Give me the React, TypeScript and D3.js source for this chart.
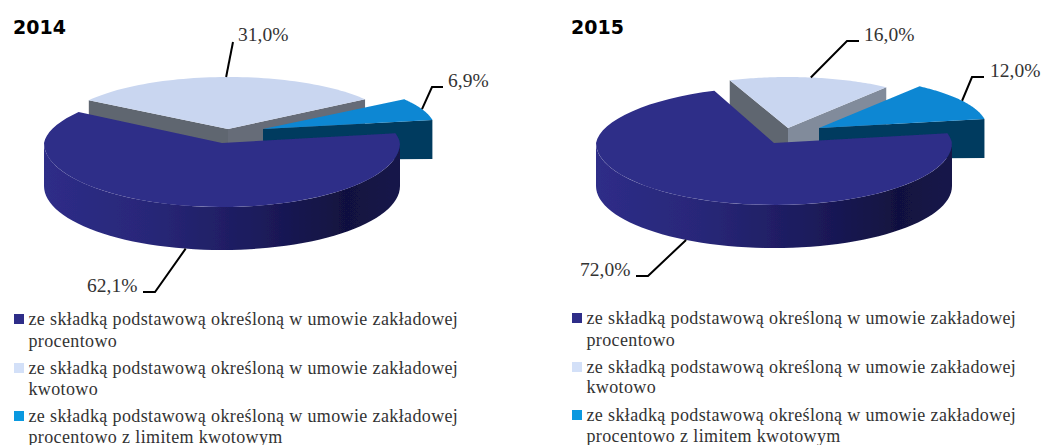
import React from 'react';
import * as d3 from 'd3';

// slice order: procentowo, kwotowo, procentowo z limitem
const values2014 = [62.1, 31.0, 6.9];
const values2015 = [72.0, 16.0, 12.0];

const legendLines = [
  ['ze składką podstawową określoną w umowie zakładowej', 'procentowo'],
  ['ze składką podstawową określoną w umowie zakładowej', 'kwotowo'],
  ['ze składką podstawową określoną w umowie zakładowej', 'procentowo z limitem kwotowym'],
];

const swatchColors = ['#2e2d88', '#d3e0f8', '#0a99e0'];
const topColors = ['#2e2d88', '#c9d6f0', '#0b87d3'];
const sideColors = ['#003a5f', '#5f6670', '#003a5f'];

const DEG = Math.PI / 180;
const DEPTH = 43;
const WALL_OUTER = 39;
const WALL_INNER = 31;

// each slice is exploded on its own ellipse
const charts = [
  {
    id: 'a',
    title: '2014',
    titleX: 13,
    values: values2014,
    start: 80,
    sideRight: '#666c78',
    ellipses: [
      { cx: 222, cy: 143, rx: 178, back: 56, front: 64, k: 0.06 },
      { cx: 228, cy: 129, rx: 167, back: 52, front: 52, k: 0 },
      { cx: 263, cy: 129, rx: 172, back: 52, front: 52, k: 0 },
    ],
    elbows: [
      [[155, 292], [143, 292]],
      [[233, 42]],
      [[432, 87], [443, 87]],
    ],
    labels: [[87, 292], [238, 41], [448, 87]],
    legendX: 14,
    legendY: [325, 347, 374, 395, 422, 443],
  },
  {
    id: 'b',
    title: '2015',
    titleX: 571,
    values: values2015,
    start: 80,
    sideRight: '#818b9b',
    ellipses: [
      { cx: 774, cy: 143, rx: 178, back: 56, front: 62, k: 0.06 },
      { cx: 788, cy: 128, rx: 164, back: 51, front: 51, k: 0 },
      { cx: 819, cy: 128, rx: 168, back: 52, front: 52, k: 0 },
    ],
    elbows: [
      [[648, 276], [636, 276]],
      [[847, 41], [859, 41]],
      [[972, 77], [984, 77]],
    ],
    labels: [[580, 276], [864, 41], [990, 77]],
    legendX: 572,
    legendY: [324, 346, 373, 393, 421, 442],
  },
];

type Ell = { cx: number; cy: number; rx: number; back: number; front: number; k: number };

const project = (e: Ell, a: number, dy = 0): [number, number] => {
  const c = Math.cos(a);
  const x = e.cx + e.rx * Math.sin(a) * (1 - e.k * Math.max(0, c));
  const y = e.cy - (c > 0 ? e.back : e.front) * c + dy;
  return [x, y];
};

const line = d3.line();

const arcPoints = (e: Ell, a0: number, a1: number, dy = 0) =>
  d3.range(0, 61).map((i) => project(e, a0 + ((a1 - a0) * i) / 60, dy));

const topPath = (e: Ell, a0: number, a1: number) =>
  line([[e.cx, e.cy], ...arcPoints(e, a0, a1)]) + 'Z';

// vertical radial wall of a slice
const wallPath = (e: Ell, a: number) => {
  const p = project(e, a);
  const q = project(e, a, WALL_OUTER);
  return line([[e.cx, e.cy], p, q, [e.cx, e.cy + WALL_INNER]]) + 'Z';
};

const rimPath = (e: Ell, a0: number, a1: number) =>
  line([...arcPoints(e, a0, a1), ...arcPoints(e, a1, a0, DEPTH)]) + 'Z';

const fmt = (v: number) => v.toFixed(1).replace('.', ',') + '%';

function Pie({ chart }: { chart: (typeof charts)[number] }) {
  const slices = d3
    .pie<number>()
    .sort(null)
    .startAngle(chart.start * DEG)
    .endAngle(chart.start * DEG + 2 * Math.PI)(chart.values);

  const [dark, light, blue] = slices;
  const [eDark, eLight, eBlue] = chart.ellipses;
  const gradId = 'rim-' + chart.id;

  return (
    <g>
      <defs>
        <linearGradient id={gradId} gradientUnits="userSpaceOnUse" x1={eDark.cx - eDark.rx} x2={eDark.cx + eDark.rx} y1={0} y2={0}>
          <stop offset="0" stopColor="#2e2d88" />
          <stop offset="0.3" stopColor="#282778" />
          <stop offset="0.6" stopColor="#1c1b5c" />
          <stop offset="0.85" stopColor="#11113f" />
          <stop offset="1" stopColor="#15154a" />
        </linearGradient>
      </defs>

      <g filter="url(#soft)">
        {/* light slice */}
        <path d={wallPath(eLight, light.startAngle)} fill={sideColors[1]} />
        <path d={wallPath(eLight, light.endAngle)} fill={chart.sideRight} />
        <path d={topPath(eLight, light.startAngle, light.endAngle)} fill={topColors[1]} />

        {/* blue slice */}
        <path d={wallPath(eBlue, blue.endAngle)} fill={sideColors[2]} />
        <path d={topPath(eBlue, blue.startAngle, blue.endAngle)} fill={topColors[2]} />

        {/* dark slice sits in front of the other two */}
        <path d={rimPath(eDark, 90 * DEG, 270 * DEG)} fill={`url(#${gradId})`} />
        <path d={topPath(eDark, dark.startAngle, dark.endAngle)} fill={topColors[0]} />
      </g>

      {slices.map((s, i) => {
        const mid = (s.startAngle + s.endAngle) / 2;
        const e = chart.ellipses[i];
        const from = project(e, mid, i === 0 ? DEPTH : 0);
        return (
          <g key={i}>
            <path
              d={line([from, ...(chart.elbows[i] as [number, number][])]) ?? ''}
              fill="none"
              stroke="#000"
              strokeWidth={2}
            />
            <text x={chart.labels[i][0]} y={chart.labels[i][1]} fontSize={19.5} fill="#333" fontFamily="'Liberation Serif', serif">
              {fmt(s.value)}
            </text>
          </g>
        );
      })}

      <text x={chart.titleX} y={34} fontSize={19} fontWeight="bold" fill="#000" fontFamily="'DejaVu Sans', sans-serif">
        {chart.title}
      </text>

      {legendLines.map((lines, i) => (
        <g key={i}>
          <rect x={chart.legendX} y={chart.legendY[i * 2] - 11} width={10} height={10} fill={swatchColors[i]} />
          {lines.map((t, j) => (
            <text
              key={j}
              x={chart.legendX + 14.5}
              y={chart.legendY[i * 2 + j]}
              fontSize={18}
              letterSpacing={0.37}
              fill="#333"
              fontFamily="'Liberation Serif', serif"
            >
              {t}
            </text>
          ))}
        </g>
      ))}
    </g>
  );
}

export default function App() {
  return (
    <svg width={1042} height={445} style={{ position: 'absolute', left: 0, top: 0, display: 'block' }}>
      <defs>
        <filter id="soft" x="-5%" y="-5%" width="110%" height="110%">
          <feGaussianBlur stdDeviation="0.5" />
        </filter>
      </defs>
      <rect width={1042} height={445} fill="#fff" />
      {charts.map((c) => (
        <Pie key={c.id} chart={c} />
      ))}
    </svg>
  );
}
